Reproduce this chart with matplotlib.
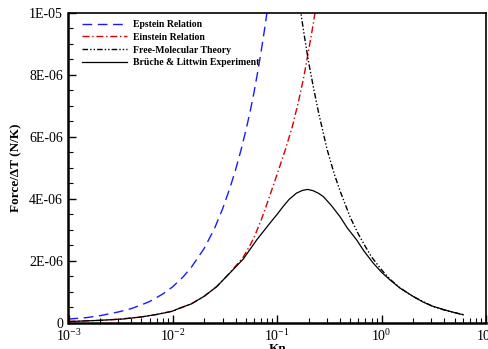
import math
import matplotlib
matplotlib.use("Agg")
import matplotlib.pyplot as plt
from matplotlib.ticker import FuncFormatter, MultipleLocator, LogLocator, NullFormatter

plt.rcParams['font.family'] = ['Liberation Serif', 'DejaVu Serif']
plt.rcParams['mathtext.fontset'] = 'custom'
plt.rcParams['mathtext.rm'] = 'Liberation Serif'
plt.rcParams['mathtext.it'] = 'Liberation Serif:italic'
plt.rcParams['mathtext.bf'] = 'Liberation Serif:bold'

# Epstein relation
kn_epstein = [0.001, 0.0015, 0.002, 0.003, 0.004, 0.005, 0.006, 0.008, 0.01, 0.0125,
              0.015, 0.02, 0.025, 0.03, 0.035, 0.04, 0.045, 0.05, 0.055, 0.06,
              0.065, 0.07, 0.075, 0.08]
f_epstein = [0.11, 0.16, 0.22, 0.34, 0.45, 0.57, 0.68, 0.92, 1.16, 1.47,
             1.78, 2.40, 3.03, 3.68, 4.32, 4.95, 5.58, 6.20, 6.82, 7.45,
             8.10, 8.75, 9.40, 10.05]

# Einstein relation
kn_einstein = [0.001, 0.002, 0.003, 0.005, 0.007, 0.01, 0.015, 0.02, 0.0263, 0.035,
               0.047, 0.055, 0.06, 0.07, 0.08, 0.09, 0.1, 0.12, 0.14, 0.16,
               0.18, 0.2, 0.22, 0.235]
f_einstein = [0.035, 0.07, 0.105, 0.18, 0.26, 0.37, 0.6, 0.85, 1.16, 1.6,
              2.1, 2.5, 2.75, 3.3, 3.85, 4.35, 4.8, 5.6, 6.35, 7.15,
              7.95, 8.8, 9.6, 10.2]

# Free-molecular theory
kn_fm = [0.165, 0.18, 0.2, 0.225, 0.25, 0.3, 0.35, 0.4, 0.5, 0.6, 0.7, 0.8, 1.0, 1.2,
         1.5, 2.0, 3.0, 4.0, 5.0, 6.1]
f_fm = [10.2, 9.35, 8.4, 7.5, 6.75, 5.6, 4.82, 4.25, 3.4, 2.85, 2.45, 2.12, 1.7, 1.40,
        1.12, 0.84, 0.54, 0.40, 0.32, 0.25]

# Bruche & Littwin experiment
kn_exp = [0.001, 0.002, 0.00326, 0.005, 0.007, 0.0098, 0.0117, 0.015, 0.02, 0.0263,
          0.0352, 0.0472, 0.0636, 0.0851, 0.1, 0.114, 0.13, 0.153, 0.175, 0.195,
          0.22, 0.25, 0.276, 0.33, 0.399, 0.47, 0.576, 0.68, 0.831, 1.0,
          1.2, 1.5, 2.01, 2.5, 3.12, 4.5, 6.05]
f_exp = [0.03, 0.07, 0.11, 0.18, 0.26, 0.36, 0.47, 0.6, 0.85, 1.16,
         1.6, 2.05, 2.67, 3.21, 3.5, 3.75, 3.98, 4.18, 4.27, 4.3,
         4.26, 4.17, 4.07, 3.78, 3.42, 3.05, 2.67, 2.3, 1.92, 1.62,
         1.38, 1.11, 0.84, 0.66, 0.52, 0.36, 0.25]

labels = ["Epstein Relation", "Einstein Relation", "Free-Molecular Theory",
          "Br\u00fcche & Littwin Experiment"]

fig = plt.figure(figsize=(4.89, 3.49), dpi=100)
ax = fig.add_axes([68.5/489, 1-322.5/349, (486-68.5)/489, (322.5-13)/349])

sc = 1e-6
ax.plot(kn_epstein, [v*sc for v in f_epstein], color=(0.1, 0.1, 1.0), lw=1.0,
        dashes=(7, 4), label=labels[0])
ax.plot(kn_einstein, [v*sc for v in f_einstein], color=(0.85, 0, 0), lw=1.0,
        dashes=(5, 2, 1, 2), label=labels[1])
ax.plot(kn_fm, [v*sc for v in f_fm], color='black', lw=1.0,
        dashes=(4, 1.5, 1, 1.5, 1, 1.5), label=labels[2])
ax.plot(kn_exp, [v*sc for v in f_exp], color='black', lw=0.9, label=labels[3])

ax.set_xscale('log')
ax.set_xlim(1e-3, 1e1)
ax.set_ylim(0, 1e-5)

ax.yaxis.set_major_locator(MultipleLocator(2e-6))
ax.yaxis.set_minor_locator(MultipleLocator(0.5e-6))

def yfmt(v, pos):
    if abs(v) < 1e-12:
        return "0"
    return "%.0E" % v
ax.yaxis.set_major_formatter(FuncFormatter(yfmt))

ax.xaxis.set_major_locator(LogLocator(base=10, numticks=10))
ax.xaxis.set_minor_locator(LogLocator(base=10, subs=range(2, 10), numticks=20))
ax.xaxis.set_minor_formatter(NullFormatter())
ax.xaxis.set_major_formatter(FuncFormatter(lambda v, p: r"$10^{%d}$" % round(math.log10(v))))

ax.tick_params(which='major', direction='in', length=6, width=1.0, labelsize=10, pad=4)
ax.tick_params(which='minor', direction='in', length=3.5, width=0.8)
ax.tick_params(top=False, right=False)

for s in ['left', 'bottom']:
    ax.spines[s].set_linewidth(1.8)
for s in ['top', 'right']:
    ax.spines[s].set_linewidth(1.2)

ax.set_xlabel("Kn", fontsize=9.5, fontweight='bold', labelpad=-1)
ax.set_ylabel("Force/\u0394T (N/K)", fontsize=9.5, fontweight='bold', labelpad=5)

leg = ax.legend(loc='upper left', bbox_to_anchor=(0.032, 0.977), frameon=False,
                prop={'family': 'Liberation Serif', 'weight': 'bold', 'size': 7},
                handlelength=4.6, handletextpad=0.7, labelspacing=0.38,
                borderpad=0, borderaxespad=0)

fig.savefig("out.png", dpi=100)
